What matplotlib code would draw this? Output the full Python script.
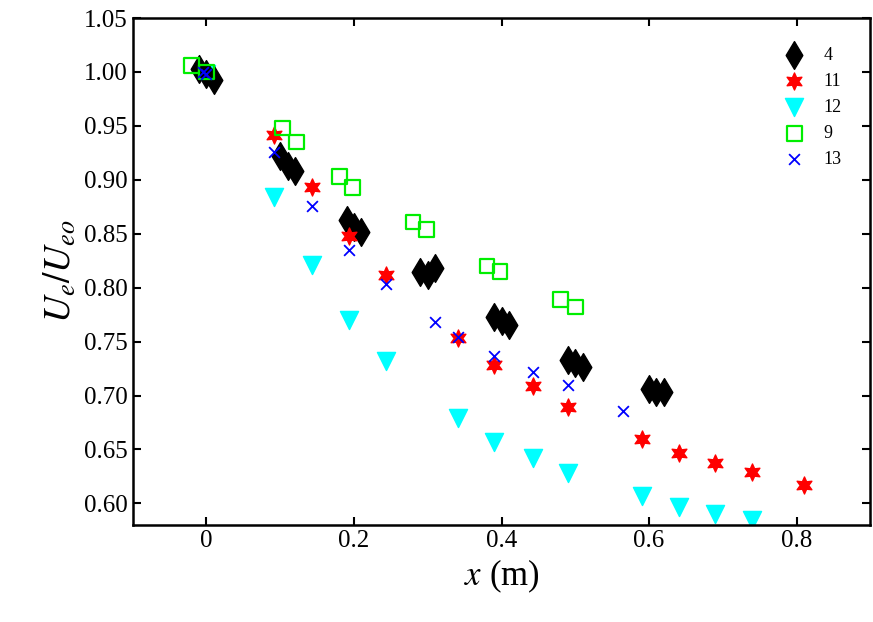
import matplotlib
matplotlib.use('Agg')
import matplotlib.pyplot as plt

plt.rcParams['font.family'] = ['Liberation Serif', 'DejaVu Serif']
plt.rcParams['mathtext.fontset'] = 'stix'

# case 4
x4 = [-0.01, 0.0, 0.01, 0.10, 0.11, 0.12, 0.19, 0.20, 0.21, 0.29, 0.30, 0.31,
      0.39, 0.40, 0.41, 0.49, 0.50, 0.51, 0.60, 0.61, 0.62]
y4 = [1.003, 0.998, 0.993, 0.922, 0.913, 0.908, 0.863, 0.856, 0.852, 0.815, 0.812, 0.818,
      0.773, 0.769, 0.765, 0.733, 0.730, 0.726, 0.706, 0.703, 0.703]
# case 11
x11 = [0.092, 0.143, 0.193, 0.243, 0.341, 0.39, 0.442, 0.49, 0.59, 0.641, 0.69, 0.74, 0.81]
y11 = [0.942, 0.893, 0.848, 0.812, 0.753, 0.728, 0.709, 0.689, 0.660, 0.647, 0.637, 0.629, 0.617]
# case 12
x12 = [0.0, 0.092, 0.143, 0.193, 0.243, 0.341, 0.39, 0.442, 0.49, 0.59, 0.641, 0.69, 0.74]
y12 = [0.998, 0.884, 0.821, 0.770, 0.732, 0.679, 0.657, 0.642, 0.628, 0.607, 0.597, 0.590, 0.585]
# case 9
x9 = [-0.02, 0.0, 0.103, 0.122, 0.18, 0.198, 0.28, 0.298, 0.38, 0.398, 0.48, 0.50]
y9 = [1.006, 1.0, 0.948, 0.935, 0.903, 0.893, 0.861, 0.854, 0.820, 0.815, 0.789, 0.782]
# case 13
x13 = [-0.005, 0.0, 0.092, 0.143, 0.193, 0.243, 0.31, 0.341, 0.39, 0.442, 0.49, 0.565]
y13 = [1.0, 0.998, 0.926, 0.876, 0.835, 0.803, 0.768, 0.754, 0.737, 0.722, 0.710, 0.686]

fig, ax = plt.subplots(figsize=(8.73, 6.22), dpi=100)
fig.subplots_adjust(left=0.152, right=0.997, top=0.971, bottom=0.156)

ax.scatter(x4, y4, marker='d', s=200, color='black', label='4', zorder=3)
ax.scatter(x11, y11, marker=(6, 1, 0), s=150, color='red', label='11', zorder=3)
ax.scatter(x12, y12, marker='v', s=170, color='cyan', label='12', zorder=2)
ax.scatter(x9, y9, marker='s', s=110, facecolor='none', edgecolor='#00ee00', linewidth=1.6, label='9', zorder=4)
ax.scatter(x13, y13, marker='x', s=60, color='blue', linewidth=1.3, label='13', zorder=5)

ax.set_xlim(-0.1, 0.9)
ax.set_ylim(0.58, 1.05)
ax.set_xticks([0, 0.2, 0.4, 0.6, 0.8])
ax.set_xticklabels(['0', '0.2', '0.4', '0.6', '0.8'])
ax.set_yticks([0.60 + 0.05 * i for i in range(10)])
ax.set_yticklabels(['%.2f' % (0.60 + 0.05 * i) for i in range(10)])
ax.tick_params(direction='in', top=True, right=True, length=6, width=1.5, labelsize=18)
for s in ax.spines.values():
    s.set_linewidth(1.8)

ax.set_xlabel(r'$x$ (m)', fontsize=25)
ax.set_ylabel(r'$U_e/U_{eo}$', fontsize=27)
ax.legend(loc='upper right', frameon=False, fontsize=13, handletextpad=0.6,
          borderaxespad=1.2, labelspacing=0.5)

fig.savefig('out.png')
